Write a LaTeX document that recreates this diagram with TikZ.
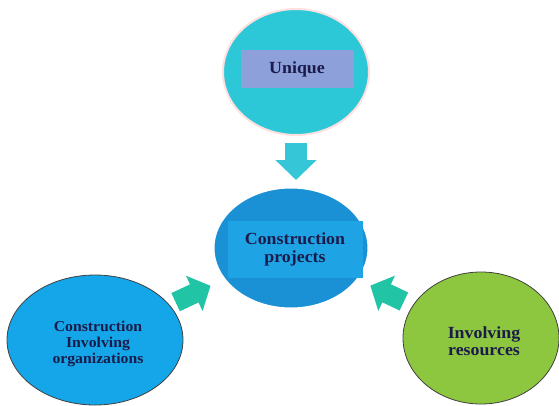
\documentclass[tikz,border=0pt]{standalone}
\usepackage{fontspec}
\newfontfamily\lblfont{Liberation Serif}[FakeStretch=1.05]
\usetikzlibrary{shapes.geometric,arrows.meta}
\definecolor{cyanfill}{HTML}{2DC8D7}
\definecolor{boxblue}{HTML}{8DA0DA}
\definecolor{centerfill}{HTML}{1A90D5}
\definecolor{centerband}{HTML}{1EA3E4}
\definecolor{leftfill}{HTML}{14A6E8}
\definecolor{greenfill}{HTML}{8DC63F}
\definecolor{topArrow}{HTML}{35C6D8}
\definecolor{sideArrow}{HTML}{22C4A6}
\definecolor{txt}{HTML}{1B1B4B}
\tikzset{
  ell/.style={ellipse, inner sep=0pt, outer sep=0pt},
  labelbox/.style={rectangle, inner sep=0pt, outer sep=0pt, text=txt, align=center},
  downarrow/.style={draw=topArrow, line width=22pt, -{Triangle[width=40pt,length=20pt,fill=topArrow]}},
  sidearrow/.style={draw=sideArrow, line width=20pt, -{Triangle[width=38pt,length=18pt,fill=sideArrow]}}
}
\begin{document}
\begin{tikzpicture}[x=1pt,y=-1pt]
\useasboundingbox (0,0) rectangle (559,405);
% top ellipse
\node[ell, fill=cyanfill, draw=white!88!red, line width=2pt, minimum width=146pt, minimum height=126pt] (u) at (296,72) {};
\node[labelbox, fill=boxblue, minimum width=113pt, minimum height=38pt, font=\lblfont\bfseries\fontsize{17}{18}\selectfont] (ut) at (297,69) {Unique};
% center ellipse
\node[ell, fill=centerfill, draw=white, line width=3pt, minimum width=156pt, minimum height=122pt] (c) at (291,248) {};
\node[labelbox, fill=centerband, minimum width=135pt, minimum height=57pt, font=\lblfont\bfseries\fontsize{17}{18}\selectfont] (ct) at (295,249) {Construction\\projects};
% left ellipse
\node[ell, fill=leftfill, draw=black!75, line width=0.8pt, minimum width=176pt, minimum height=130pt] (l) at (95,340) {};
\node[labelbox, font=\lblfont\bfseries\fontsize{15}{16}\selectfont] (lt) at (98,344) {Construction\\Involving\\organizations};
% right ellipse
\node[ell, fill=greenfill, draw=black!75, line width=0.8pt, minimum width=156pt, minimum height=132pt] (r) at (481,338) {};
\node[labelbox, font=\lblfont\bfseries\fontsize{17}{17}\selectfont] (rt) at (484,341) {Involving\\resources};
% arrows
\draw[downarrow, shorten <=8pt, shorten >=7pt] (u.south) -- (u.south |- c.north);
\draw[sidearrow, shorten <=7pt, shorten >=15pt] (l) -- (c);
\draw[sidearrow, shorten <=10pt, shorten >=14pt] (r) -- (c);
\end{tikzpicture}
\end{document}
